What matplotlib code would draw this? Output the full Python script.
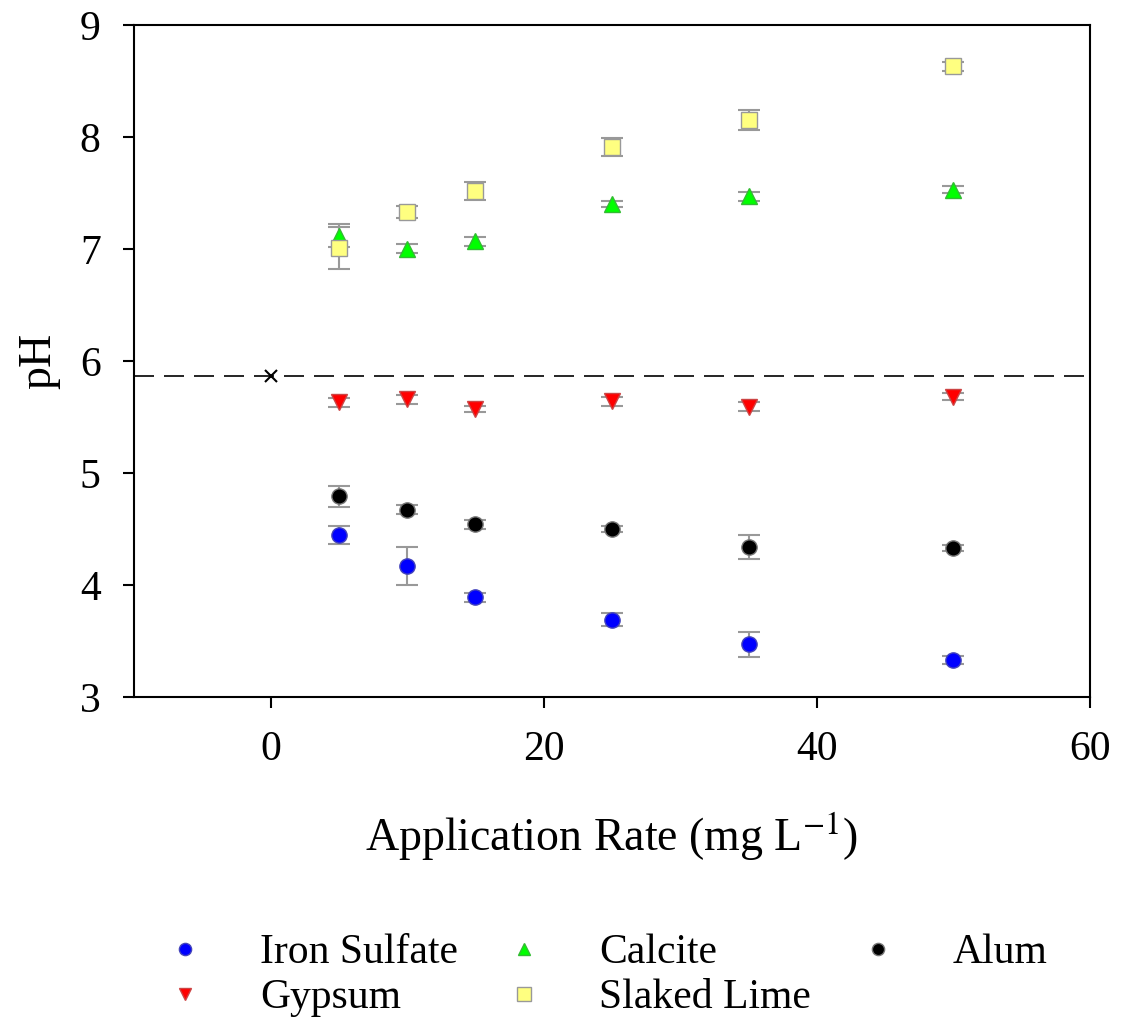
import numpy as np
import matplotlib.pyplot as plt

plt.rcParams['font.family'] = ['Liberation Serif', 'DejaVu Serif']
plt.rcParams['mathtext.fontset'] = 'stix'

# application rates (mg/L)
rate = [5, 10, 15, 25, 35, 50]

# mean pH and error per amendment
iron_ph = [4.45, 4.17, 3.89, 3.69, 3.47, 3.33]
iron_err = [0.08, 0.17, 0.04, 0.06, 0.11, 0.04]
gypsum_ph = [5.63, 5.66, 5.57, 5.64, 5.59, 5.68]
gypsum_err = [0.04, 0.04, 0.03, 0.04, 0.04, 0.03]
calcite_ph = [7.12, 7.00, 7.07, 7.40, 7.47, 7.53]
calcite_err = [0.10, 0.04, 0.04, 0.03, 0.04, 0.03]
lime_ph = [7.01, 7.33, 7.52, 7.91, 8.15, 8.63]
lime_err = [0.19, 0.05, 0.08, 0.08, 0.09, 0.04]
alum_ph = [4.79, 4.67, 4.54, 4.50, 4.34, 4.33]
alum_err = [0.09, 0.04, 0.04, 0.03, 0.11, 0.03]

control_x = 0
control_ph = 5.87

fig = plt.figure(figsize=(11.22, 10.26), dpi=100)
ax = fig.add_axes([0.1194, 0.3207, 0.852, 0.655])

err_kw = dict(ecolor='#999999', elinewidth=1.5, capsize=8, capthick=1.5, linestyle='none')

ax.errorbar(rate, iron_ph, yerr=iron_err, marker='o', ms=11, mfc='#0000ff',
            mec='#4444bb', label='Iron Sulfate', **err_kw)
ax.errorbar(rate, gypsum_ph, yerr=gypsum_err, marker='v', ms=11, mfc='#ff0000',
            mec='#cc4444', label='Gypsum', **err_kw)
ax.errorbar(rate, calcite_ph, yerr=calcite_err, marker='^', ms=11, mfc='#00ff00',
            mec='#33bb33', label='Calcite', **err_kw)
ax.errorbar(rate, lime_ph, yerr=lime_err, marker='s', ms=12, mfc='#ffff80',
            mec='#999999', label='Slaked Lime', **err_kw)
ax.errorbar(rate, alum_ph, yerr=alum_err, marker='o', ms=11, mfc='#000000',
            mec='#777777', label='Alum', **err_kw)

# untreated control
ax.axhline(control_ph, color='black', lw=1.2, dashes=(12, 6))
ax.plot([control_x], [control_ph], marker='x', color='black', ms=8, mew=1.5, ls='none')

ax.set_xlim(-10, 60)
ax.set_ylim(3, 9)
ax.set_xticks([0, 20, 40, 60])
ax.set_yticks([3, 4, 5, 6, 7, 8, 9])
ax.tick_params(direction='out', length=8, width=1.5, labelsize=30, pad=16)
for s in ax.spines.values():
    s.set_linewidth(1.5)

ax.set_xlabel('Application Rate (mg L$^{-1}$)', fontsize=33, labelpad=30)
ax.set_ylabel('pH', fontsize=33, labelpad=14)

handles, labels = ax.get_legend_handles_labels()
handles = [h[0] for h in handles]
fig.legend(handles, labels, ncol=3, loc='lower center', bbox_to_anchor=(0.54, -0.028),
           frameon=False, fontsize=30, handlelength=1.0, handletextpad=1.3,
           columnspacing=1.1, labelspacing=0.15, markerscale=0.8)

fig.savefig('out.png', dpi=100)
